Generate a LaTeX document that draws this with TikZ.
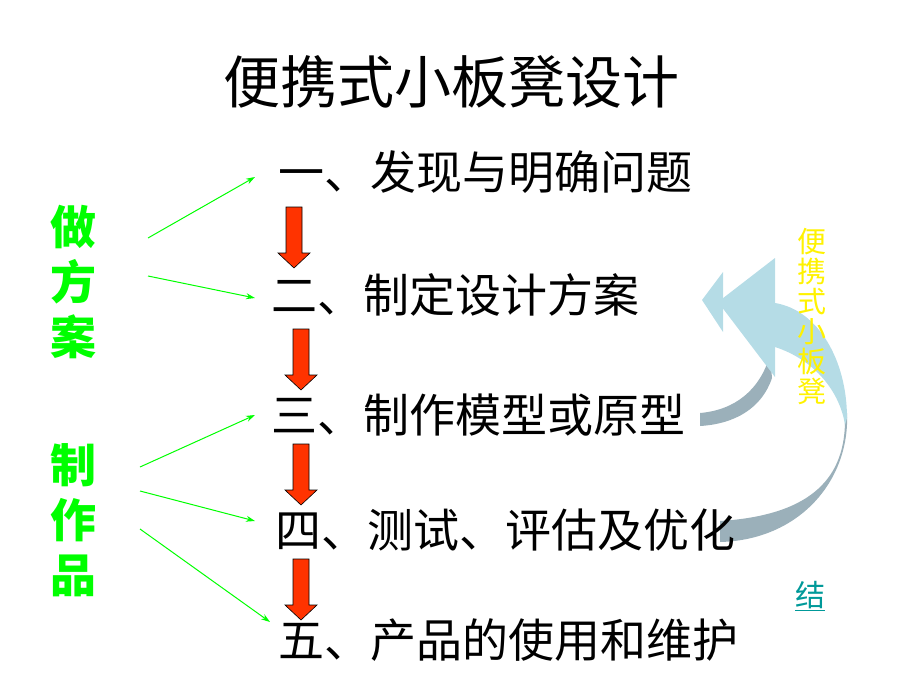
\documentclass[tikz,border=0pt]{standalone}
\usepackage{fontspec}
\usetikzlibrary{arrows.meta}
\setmainfont{Noto Sans CJK SC}
\definecolor{verde}{HTML}{00FF00}
\definecolor{rojo}{HTML}{FF3300}
\definecolor{celeste}{HTML}{B5DCE6}
\definecolor{grisazul}{HTML}{9BB0BA}
\definecolor{turquesa}{HTML}{009999}
\begin{document}
\begin{tikzpicture}[x=1pt,y=-1pt,
    paso/.style={anchor=west, inner sep=0pt, font=\fontsize{46}{46}\selectfont},
    lado/.style={text=verde, inner sep=0pt, align=center, font=\bfseries\fontsize{46}{55}\selectfont},
    flechaverde/.style={-{Stealth[length=9pt,width=6pt]}, verde, line width=1pt},
    flecharoja/.style={fill=rojo, draw=black, line width=0.6pt}]
    \useasboundingbox (0,0) rectangle (920,690);

    % Flecha curva
    \fill[grisazul] (845,420) .. controls (845,475) and (815,515) .. (720,521)
        -- (720,542) .. controls (800,540) and (850,480) .. (847,413) -- cycle;
    \fill[celeste] (775,303) .. controls (818,310) and (847,360) .. (847,418)
        -- (845,425) .. controls (840,392) and (815,360) .. (775,347) -- cycle;
    \fill[grisazul] (700,413) .. controls (735,410) and (760,390) .. (770,355)
        -- (772,378) .. controls (762,408) and (735,424) .. (700,426) -- cycle;
    \fill[celeste] (702,300) -- (723,272) -- (723,332) -- cycle;
    \fill[celeste] (718,302) -- (775,258) -- (775,377) -- cycle;

    % Titulo
    \node (titulo) at (451,82) {\fontsize{57}{57}\selectfont 便携式小板凳设计};

    % Pasos
    \node[paso] (p1) at (278,172) {一、发现与明确问题};
    \node[paso] (p2) at (271,295) {二、制定设计方案};
    \node[paso] (p3) at (271,415) {三、制作模型或原型};
    \node[paso] (p4) at (275,530) {四、测试、评估及优化};
    \node[paso] (p5) at (278,640) {五、产品的使用和维护};

    % Lados
    \node[lado] (hacer) at (73,282) {做\\方\\案};
    \node[lado] (fabricar) at (73,520) {制\\作\\品};
    \node[text=yellow, inner sep=0pt, align=center, font=\fontsize{29}{30}\selectfont]
        (banco) at (812,317) {便\\携\\式\\小\\板\\凳};
    \node[text=turquesa, inner sep=0pt, font=\fontsize{30}{30}\selectfont]
        (fin) at (810,596) {\underline{结}};

    % Flechas rojas
    \foreach \x/\t in {294/207, 301/329, 301/444, 301/559}
        \draw[flecharoja] (\x-8,\t) -- (\x+8,\t) -- (\x+8,\t+46) -- (\x+16,\t+46)
            -- (\x,\t+61) -- (\x-16,\t+46) -- (\x-8,\t+46) -- cycle;

    % Flechas verdes
    \coordinate (a1) at (148,238); \coordinate (b1) at (255,177);
    \coordinate (a2) at (148,276); \coordinate (b2) at (255,298);
    \coordinate (a3) at (140,467); \coordinate (b3) at (255,415);
    \coordinate (a4) at (140,491); \coordinate (b4) at (255,521);
    \coordinate (a5) at (140,529); \coordinate (b5) at (270,622);
    \foreach \i in {1,...,5}
        \draw[flechaverde] (a\i) -- (b\i);
\end{tikzpicture}
\end{document}
